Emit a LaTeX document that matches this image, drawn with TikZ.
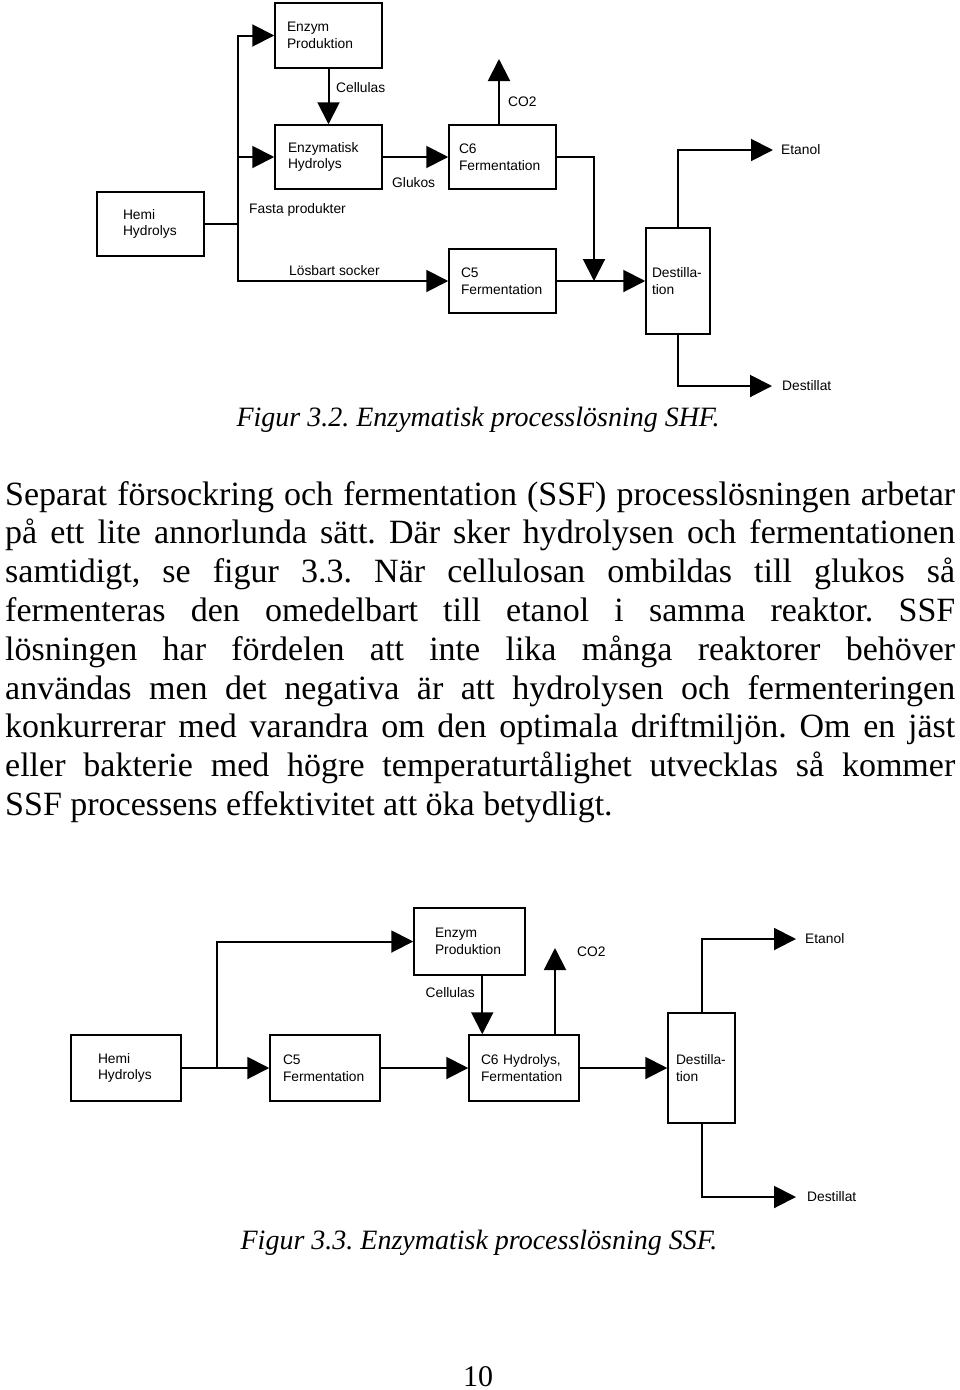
\documentclass[tikz,border=0pt]{standalone}
\usepackage{fontspec}
\setmainfont{Liberation Serif}
\newfontfamily\diagfont{Liberation Sans}
\usetikzlibrary{arrows.meta}
\frenchspacing
\begin{document}
\begin{tikzpicture}[x=1pt,y=-1pt]
        \tikzset{unit/.style = {draw,line width=1.5pt,align=left,inner ysep=0pt,font=\diagfont\fontsize{13.8}{16.5}\selectfont}}
        \tikzset{flow/.style = {line width=2pt,-{Triangle[length=22pt,width=22pt]}}}
        \tikzset{pipe/.style = {line width=2pt}}
        \tikzset{tag/.style = {inner sep=0pt,font=\diagfont\fontsize{13.8}{16.5}\selectfont}}
        \tikzset{body/.style = {inner sep=0pt,text width=950pt,align=justify,font=\fontsize{34}{38.8}\selectfont}}
        \tikzset{caption/.style = {inner sep=0pt,anchor=base,font=\itshape\fontsize{28}{32}\selectfont}}
        \useasboundingbox (0,0) rectangle (960,1390);
        % units of figur 3.2
        \node[unit,minimum height=65pt,text width=83pt,inner xsep=12pt] (enzA) at (328.5,35.5) {Enzym\\Produktion};
        \node[unit,minimum height=64pt,text width=81pt,inner xsep=13pt] (hydA) at (328.5,157) {Enzymatisk\\Hydrolys};
        \node[unit,minimum height=64pt,text width=55pt,inner xsep=26pt] (hemiA) at (150.5,224) {Hemi\\Hydrolys};
        \node[unit,minimum height=64pt,text width=87pt,inner xsep=10pt] (c6A) at (502.5,157) {C6\\Fermentation};
        \node[unit,minimum height=64pt,text width=83pt,inner xsep=12pt] (c5A) at (502.5,281) {C5\\Fermentation};
        \node[unit,minimum height=106pt,text width=52pt,inner xsep=6pt] (destA) at (678,281) {Destilla-\\tion};
        \coordinate (jA) at (238,224);
        \coordinate (mixA) at (594,281);
        \coordinate (co2A) at (499,59);
        \coordinate (etA) at (773,150);
        \coordinate (dlA) at (772,386);
        % flows of figur 3.2
        \draw[pipe] (hemiA.east) -- (jA);
        \draw[flow] (jA) |- (enzA.west);
        \draw[flow] (jA) |- (hydA.west);
        \draw[flow] (jA) |- (c5A.west);
        \draw[flow] (enzA) -- (hydA);
        \draw[flow] (hydA) -- (c6A);
        \draw[flow] (c6A.north -| co2A) -- (co2A);
        \draw[flow] (c6A.east) -| (mixA);
        \draw[flow] (c5A) -- (destA);
        \draw[flow] (destA.north) |- (etA);
        \draw[flow] (destA.south) |- (dlA);
        \node[tag,anchor=west] (cellA) at (336,88) {Cellulas};
        \node[tag,anchor=west] (glukA) at (392,183) {Glukos};
        \node[tag,anchor=west] (fastA) at (249,210) {Fasta produkter};
        \node[tag,anchor=west] (sockA) at (289,271) {Lösbart socker};
        \node[tag,anchor=west] (co2labA) at (508,102) {CO2};
        \node[tag,anchor=west] (etlabA) at (781,150) {Etanol};
        \node[tag,anchor=west] (dllabA) at (782,386) {Destillat};
        \node[caption] (capA) at (478,426) {Figur 3.2. Enzymatisk processlösning SHF.};
        % text between the figures
        \node[body,anchor=base west] (txt) at (5,505) {Separat försockring och fermentation (SSF) processlösningen arbetar\linebreak
        på ett lite annorlunda sätt. Där sker hydrolysen och fermentationen\linebreak
        samtidigt, se figur 3.3. När cellulosan ombildas till glukos så\linebreak
        fermenteras den omedelbart till etanol i samma reaktor. SSF\linebreak
        lösningen har fördelen att inte lika många reaktorer behöver\linebreak
        användas men det negativa är att hydrolysen och fermenteringen\linebreak
        konkurrerar med varandra om den optimala driftmiljön. Om en jäst\linebreak
        eller bakterie med högre temperaturtålighet utvecklas så kommer\linebreak
        SSF processens effektivitet att öka betydligt.};
        % units of figur 3.3
        \node[unit,minimum height=66pt,text width=56pt,inner xsep=27pt] (hemiB) at (126,1068) {Hemi\\Hydrolys};
        \node[unit,minimum height=66pt,text width=84pt,inner xsep=13pt] (c5B) at (325,1068) {C5\\Fermentation};
        \node[unit,minimum height=67pt,text width=69pt,inner xsep=21pt] (enzB) at (469.5,941.5) {Enzym\\Produktion};
        \node[unit,minimum height=66pt,text width=86pt,inner xsep=12pt] (c6B) at (524,1068) {C6 Hydrolys,\\Fermentation};
        \node[unit,minimum height=110pt,text width=51pt,inner xsep=8pt] (destB) at (701.5,1068) {Destilla-\\tion\\[14pt]};
        \coordinate (jB) at (217,1068);
        \coordinate (co2B) at (555,948);
        \coordinate (etB) at (796,939);
        \coordinate (dlB) at (796,1197);
        % flows of figur 3.3
        \draw[pipe] (hemiB.east) -- (jB);
        \draw[flow] (jB) -- (c5B.west);
        \draw[flow] (jB) |- (enzB.west);
        \draw[flow] (c5B) -- (c6B);
        \draw[flow] ([xshift=14pt]c6B.north west |- enzB.south) -- ([xshift=14pt]c6B.north west);
        \draw[flow] (c6B.north -| co2B) -- (co2B);
        \draw[flow] (c6B) -- (destB);
        \draw[flow] (destB.north) |- (etB);
        \draw[flow] (destB.south) |- (dlB);
        \node[tag,anchor=east] (cellB) at (475,993) {Cellulas};
        \node[tag,anchor=west] (co2labB) at (577,952) {CO2};
        \node[tag,anchor=west] (etlabB) at (805,939) {Etanol};
        \node[tag,anchor=west] (dllabB) at (807,1197) {Destillat};
        \node[caption] (capB) at (479,1249) {Figur 3.3. Enzymatisk processlösning SSF.};
        % page number
        \node[caption,font=\fontsize{30}{34}\selectfont] (page) at (478,1386) {10};
\end{tikzpicture}
\end{document}
